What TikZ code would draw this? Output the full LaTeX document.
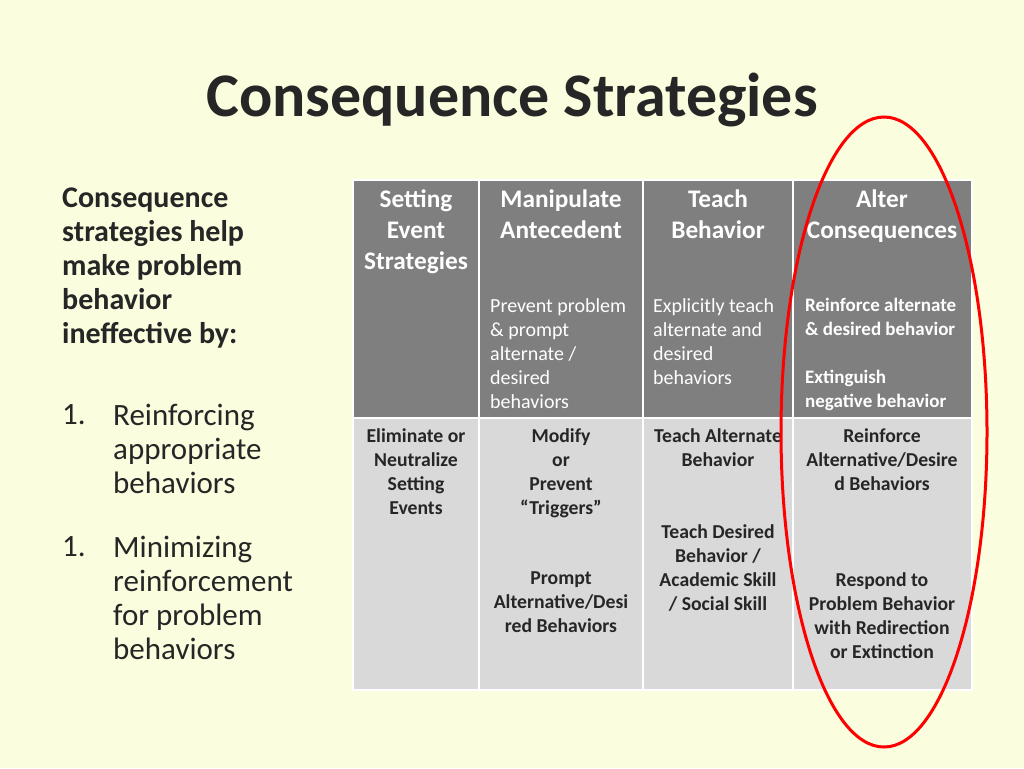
\documentclass[tikz,border=0pt]{standalone}
\usepackage{fontspec}
\setmainfont{Carlito}
\definecolor{bg}{HTML}{FAFDDE}
\definecolor{hd}{HTML}{7F7F7F}
\definecolor{bd}{HTML}{D9D9D9}
\definecolor{tt}{HTML}{262626}
\begin{document}
\begin{tikzpicture}[x=1pt,y=-1pt,
  hcell/.style={fill=hd,draw=white,line width=1.5pt},
  bcell/.style={fill=bd,draw=white,line width=1.5pt},
  htxt/.style={anchor=north,inner sep=0,align=center,text=white,font=\fontsize{25.3}{31}\selectfont\bfseries},
  stxt/.style={anchor=north west,inner sep=0,align=left,text=white,font=\fontsize{20}{24}\selectfont},
  btxt/.style={anchor=north,inner sep=0,align=center,text=tt,font=\fontsize{19.7}{24}\selectfont\bfseries},
  ltxt/.style={anchor=north west,inner sep=0,align=left,text=tt,font=\fontsize{31}{34}\selectfont}]
\fill[bg] (0,0) rectangle (1024,768);
\useasboundingbox (0,0) rectangle (1024,768);
\node[anchor=center,text=tt,font=\fontsize{62}{66}\selectfont\bfseries] (title) at (512,100) {Consequence Strategies};
\node[ltxt,font=\fontsize{30}{34}\selectfont\bfseries] (intro) at (62,188) {Consequence\\strategies help\\make problem\\behavior\\ineffective by:};
\node[ltxt] (n1) at (62,404) {1.};
\node[ltxt] (l1) at (113,404) {Reinforcing\\appropriate\\behaviors};
\node[ltxt] (n2) at (62,536) {1.};
\node[ltxt] (l2) at (113,536) {Minimizing\\reinforcement\\for problem\\behaviors};
% table
\foreach \a/\b/\n in {353/479/a,479/643/b,643/793/c,793/972/d}{
  \draw[hcell] (\a,180) rectangle (\b,418);
  \draw[bcell] (\a,418) rectangle (\b,690);
}
\node[htxt] (h1) at (416,190) {Setting\\Event\\Strategies};
\node[htxt] (h2) at (561,190) {Manipulate\\Antecedent};
\node[htxt] (h3) at (718,190) {Teach\\Behavior};
\node[htxt] (h4) at (882,190) {Alter\\Consequences};
\node[stxt] (s2) at (490,298) {Prevent problem\\\& prompt\\alternate /\\desired\\behaviors};
\node[stxt] (s3) at (653,298) {Explicitly teach\\alternate and\\desired\\behaviors};
\node[stxt,font=\fontsize{19}{24}\selectfont\bfseries] (s4) at (805,298) {Reinforce alternate\\\& desired behavior\\[24pt]Extinguish\\negative behavior};
\node[btxt] (b1) at (416,428) {Eliminate or\\Neutralize\\Setting\\Events};
\node[btxt] (b2a) at (561,428) {Modify\\or\\Prevent\\“Triggers”};
\node[btxt] (b2b) at (561,572) {Prompt\\Alternative/Desi\\red Behaviors};
\node[btxt] (b3a) at (718,428) {Teach Alternate\\Behavior};
\node[btxt] (b3b) at (718,524) {Teach Desired\\Behavior /\\Academic Skill\\/ Social Skill};
\node[btxt] (b4a) at (882,428) {Reinforce\\Alternative/Desire\\d Behaviors};
\node[btxt] (b4b) at (882,572) {Respond to\\Problem Behavior\\with Redirection\\or Extinction};
\draw[red,line width=3pt] (884,432) ellipse [x radius=103, y radius=315];
\end{tikzpicture}
\end{document}
